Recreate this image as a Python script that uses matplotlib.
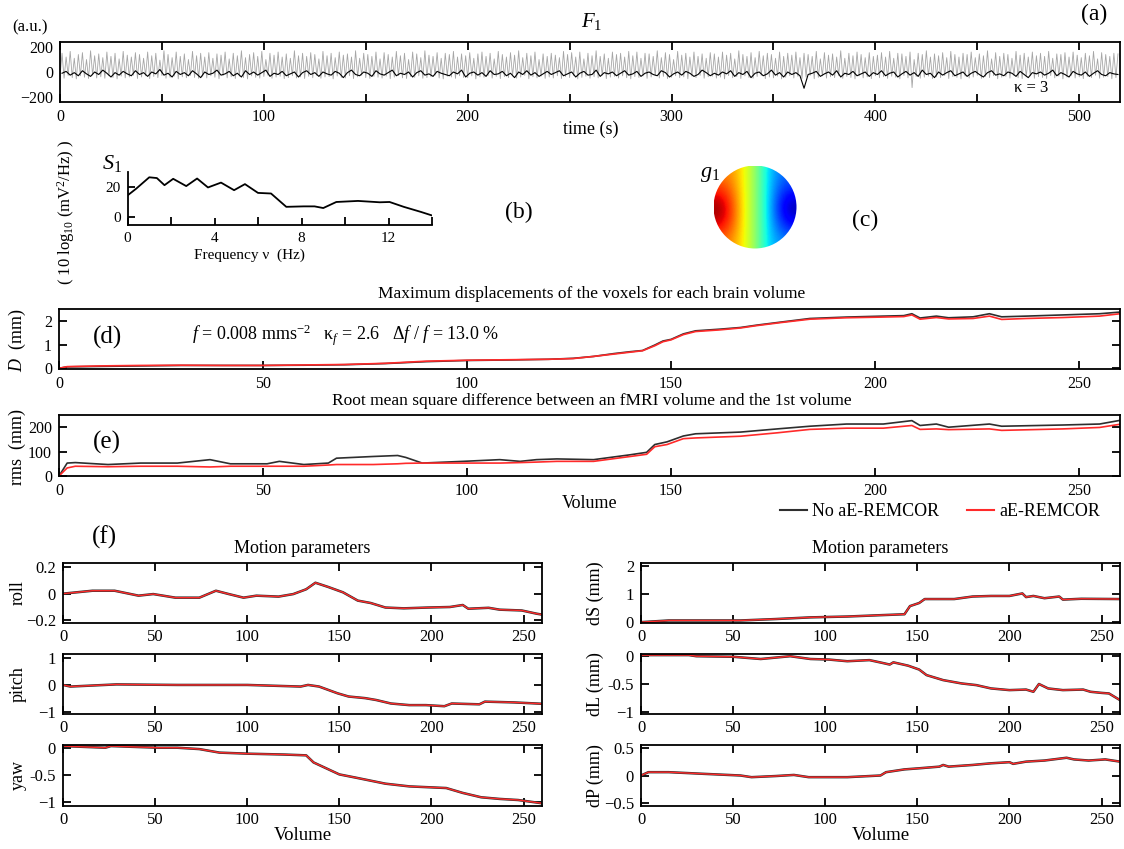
import numpy as np
import matplotlib.pyplot as plt
from matplotlib.lines import Line2D
from matplotlib.patches import Circle

plt.rcParams['font.family'] = ['Liberation Serif', 'DejaVu Serif']
plt.rcParams['mathtext.fontset'] = 'custom'
plt.rcParams['mathtext.rm'] = 'Liberation Serif'
plt.rcParams['mathtext.it'] = 'Liberation Serif:italic'
plt.rcParams['font.size'] = 11.5

# ---- (a) F1 time course: gray spikes (peaks/troughs every 2 s) and black trace
f1_peaks = [
    150, 120, 165, 110, 140, 155, 100, 170, 130, 145, 115, 160, 125, 150, 105, 165, 135, 120, 155, 140,
    110, 160, 130, 150, 95, 170, 140, 115, 160, 125, 145, 100, 165, 130, 150, 120, 155, 110, 145, 135,
    160, 105, 150, 130, 170, 115, 140, 155, 125, 165, 100, 150, 135, 160, 120, 145, 110, 170, 130, 150,
    125, 155, 140, 105, 165, 130, 150, 115, 160, 135, 145, 120, 170, 110, 150, 140, 125, 160, 105, 155,
    140, 120, 165, 130, 150, 100, 160, 145, 115, 170, 135, 125, 155, 110, 150, 140, 165, 120, 145, 130,
    155, 110, 145, 160, 125, 150, 105, 165, 140, 120, 155, 135, 170, 115, 150, 130, 160, 100, 145, 125,
    150, 135, 115, 165, 140, 155, 120, 160, 105, 150, 130, 170, 125, 145, 110, 160, 140, 150, 120, 165,
    130, 160, 110, 150, 145, 125, 170, 115, 155, 140, 100, 165, 135, 150, 120, 160, 125, 145, 110, 155,
    145, 120, 160, 135, 150, 105, 170, 140, 125, 155, 115, 165, 130, 150, 140, 110, 160, 125, 150, 135,
    160, 115, 150, 140, 125, 165, 105, 155, 135, 145, 120, 170, 110, 150, 130, 160, 140, 115, 155, 125,
    135, 155, 120, 165, 110, 150, 145, 125, 160, 100, 150, 140, 170, 120, 145, 130, 155, 115, 165, 140,
    120, 150, 140, 160, 115, 145, 130, 170, 105, 155, 125, 150, 140, 110, 165, 135, 150, 120, 160, 130,
    150, 125, 165, 110, 145, 140, 155, 120, 160, 135, 115, 150, 130, 165, 105, 155, 140, 125, 150, 145,
]
f1_troughs = [
    -35, -50, -28, -45, -55, -30, -42, -52, -25, -48, -38, -50, -30, -44, -55, -33, -47, -40, -26, -52,
    -40, -30, -53, -36, -45, -28, -50, -42, -33, -55, -38, -46, -27, -44, -51, -35, -48, -30, -42, -54,
    -29, -47, -38, -52, -33, -45, -55, -31, -43, -49, -36, -26, -50, -41, -34, -53, -45, -30, -48, -39,
    -52, -34, -46, -28, -50, -40, -37, -55, -32, -44, -48, -30, -53, -39, -27, -45, -51, -35, -42, -49,
    -33, -54, -41, -29, -47, -52, -36, -43, -31, -50, -45, -38, -26, -48, -55, -34, -40, -51, -30, -44,
    -46, -31, -55, -39, -42, -28, -49, -35, -53, -37, -45, -32, -50, -41, -27, -54, -38, -47, -33, -51,
    -40, -48, -30, -52, -36, -45, -29, -55, -43, -34, -50, -38, -47, -26, -53, -41, -35, -49, -31, -46,
    -55, -37, -44, -32, -51, -40, -28, -48, -35, -53, -42, -30, -46, -39, -54, -33, -45, -27, -50, -38,
    -34, -49, -41, -55, -29, -46, -37, -52, -31, -44, -50, -36, -28, -53, -40, -47, -33, -55, -42, -30,
    -48, -35, -52, -40, -27, -54, -43, -31, -49, -38, -45, -29, -51, -36, -44, -55, -32, -47, -39, -53,
    -30, -46, -38, -51, -34, -42, -55, -28, -47, -125, -36, -50, -41, -33, -53, -39, -45, -29, -52, -37,
    -43, -55, -32, -48, -40, -27, -51, -36, -45, -30, -54, -42, -35, -49, -28, -46, -53, -38, -31, -50,
    -37, -44, -52, -29, -47, -33, -55, -41, -30, -48, -39, -53, -34, -45, -26, -50, -42, -36, -54, -45,
]
f1_black = [
    -10, 5, -25, -5, -30, 10, -15, -35, 0, -20, 15, -10, -40, -5, -25, 5, -15, -30, 10, -20,
    -5, -35, 0, -15, 20, -25, -10, -40, 5, -20, -5, -30, 10, -15, -45, 0, -20, -10, 15, -25,
    -15, 5, -30, -10, -40, 10, -20, 0, -25, -5, 15, -35, -10, -20, 5, -30, -15, 0, -40, -5,
    10, -20, -5, -35, 0, -15, -25, 5, -10, -45, -5, 15, -20, -30, 0, -10, -35, 10, -15, -25,
    -5, 15, -30, -10, -20, 0, -40, -5, 10, -25, -15, -35, 5, -10, -20, -30, 0, -15, 15, -40,
    -10, 0, -25, -5, -35, 10, -20, -15, 5, -30, -10, -45, 0, -20, 10, -25, -5, -35, -15, 5,
    -20, -5, 10, -30, -15, 0, -40, -10, 5, -25, -20, 15, -35, -5, -15, 0, -30, -10, 10, -25,
    -15, 5, -35, -10, 0, -20, -30, 10, -5, -40, -15, 0, -25, 5, -10, -35, -20, 15, -5, -30,
    -10, -25, 0, -15, 10, -35, -5, -20, 5, -45, -10, 0, -30, -15, 15, -25, -5, -40, 0, -20,
    -5, -30, -130, -20, -10, 5, -35, -15, 0, -25, 10, -40, -10, -20, 5, -30, -15, 0, -35, -5,
    -20, 10, -30, -10, 0, -40, -15, 5, -25, -5, -35, 15, -20, -10, -45, 0, -25, -5, 10, -30,
    -15, 0, -35, -10, 5, -20, -40, -5, 10, -25, -15, -30, 0, -10, -35, 5, -20, -45, -5, -15,
    0, -25, -10, 15, -30, -5, -20, -40, 5, -15, -25, 0, -35, -10, 10, -20, -30, -5, -15, -20,
]

# ---- (b) spectrum S1
b_freq = [0, 0.4, 1.0, 1.35, 1.7, 2.1, 2.7, 3.2, 3.7, 4.3, 4.9, 5.4, 6.0, 6.6, 7.3,
          8.1, 8.6, 9.0, 9.6, 10.6, 11.6, 12.05, 12.7, 13.5, 14.0]
b_psd = [14.5, 19, 26.5, 26, 21.3, 25.5, 20.7, 25.7, 19.8, 23, 18, 22, 16.2, 15.8, 7,
         7.3, 7.3, 6.2, 10.2, 10.9, 10, 10.2, 7, 3.6, 1.3]

# ---- (c) topography g1 (rows top->bottom, columns left->right)
g1_grid = [
    [0.55, 0.50, 0.30, 0.05, -0.30, -0.50, -0.55],
    [0.75, 0.60, 0.30, 0.05, -0.30, -0.60, -0.70],
    [0.98, 0.70, 0.30, 0.05, -0.30, -0.70, -0.95],
    [0.85, 0.65, 0.30, 0.05, -0.30, -0.60, -0.75],
    [0.60, 0.50, 0.30, 0.05, -0.30, -0.45, -0.50],
]

# ---- (d) maximum displacement
d_vol = [0, 2, 10, 20, 30, 40, 50, 60, 70, 80, 90, 100, 110, 120, 126, 131, 136, 140, 143, 146, 148,
         150, 153, 156, 162, 167, 171, 177, 184, 193, 202, 207, 209, 211, 215, 218, 224, 228, 231,
         237, 246, 255, 260]
d_black = [0, 0.06, 0.08, 0.1, 0.12, 0.12, 0.12, 0.13, 0.15, 0.2, 0.28, 0.33, 0.35, 0.38, 0.42, 0.5,
           0.62, 0.7, 0.75, 0.98, 1.15, 1.22, 1.45, 1.58, 1.65, 1.72, 1.82, 1.95, 2.1, 2.16, 2.2, 2.22,
           2.3, 2.12, 2.2, 2.13, 2.17, 2.3, 2.17, 2.2, 2.25, 2.3, 2.37]
d_red = [0, 0.07, 0.1, 0.12, 0.13, 0.12, 0.12, 0.14, 0.16, 0.21, 0.3, 0.34, 0.36, 0.38, 0.41, 0.5,
         0.6, 0.68, 0.74, 0.95, 1.12, 1.2, 1.42, 1.55, 1.62, 1.7, 1.8, 1.93, 2.07, 2.13, 2.16, 2.18,
         2.25, 2.07, 2.14, 2.08, 2.1, 2.2, 2.06, 2.1, 2.14, 2.2, 2.3]

# ---- (e) rms difference
e_vol = [0, 2, 4, 12, 20, 29, 37, 42, 51, 54, 60, 66, 68, 77, 83, 85, 89, 99, 108, 113, 117, 122,
         131, 140, 144, 146, 149, 153, 156, 167, 176, 184, 193, 202, 209, 211, 215, 218, 228, 231,
         246, 255, 260]
e_black = [0, 53, 55, 47, 53, 53, 67, 50, 50, 60, 47, 53, 73, 80, 84, 76, 53, 60, 67, 60, 67, 70,
           67, 87, 97, 129, 140, 164, 173, 180, 193, 204, 213, 213, 227, 207, 213, 200, 213, 204,
           209, 213, 228]
e_red = [0, 33, 40, 38, 40, 40, 37, 40, 40, 40, 40, 45, 47, 47, 50, 52, 53, 53, 53, 55, 57, 60,
         60, 80, 89, 120, 129, 153, 156, 163, 177, 191, 196, 196, 207, 191, 193, 190, 193, 187,
         193, 199, 212]

# ---- (f) motion parameters
roll_vol = [0, 16, 28, 41, 49, 61, 74, 83, 90, 98, 105, 117, 125, 132, 137, 144, 152, 160, 167,
            175, 185, 198, 210, 217, 220, 231, 237, 249, 257, 260]
roll = [0, 0.022, 0.022, -0.015, -0.003, -0.03, -0.03, 0.022, -0.003, -0.03, -0.015, -0.022,
        -0.003, 0.033, 0.082, 0.05, 0.01, -0.052, -0.07, -0.104, -0.11, -0.104, -0.1, -0.085,
        -0.113, -0.106, -0.12, -0.126, -0.15, -0.157]
pitch_vol = [0, 4, 29, 62, 100, 129, 133, 139, 149, 155, 164, 170, 178, 188, 197, 207, 211, 226,
             229, 245, 260]
pitch = [0, -0.06, 0.02, 0, 0, -0.06, 0, -0.06, -0.31, -0.43, -0.49, -0.56, -0.69, -0.75, -0.75,
         -0.79, -0.69, -0.72, -0.62, -0.65, -0.7]
yaw_vol = [0, 23, 26, 43, 52, 62, 74, 85, 101, 120, 132, 136, 150, 159, 175, 188, 198, 208, 217,
           227, 237, 247, 260]
yaw = [0.03, 0, 0.03, 0.01, 0, 0, -0.025, -0.09, -0.11, -0.125, -0.14, -0.27, -0.49, -0.55, -0.66,
       -0.71, -0.725, -0.74, -0.83, -0.91, -0.94, -0.96, -1.02]
dS_vol = [0, 15, 54, 73, 92, 112, 131, 143, 146, 151, 154, 170, 180, 190, 200, 207, 209, 213, 219,
          227, 229, 239, 260]
dS = [0, 0.06, 0.06, 0.11, 0.17, 0.2, 0.25, 0.28, 0.57, 0.68, 0.82, 0.82, 0.91, 0.93, 0.93, 1.02,
      0.89, 0.93, 0.85, 0.91, 0.8, 0.83, 0.82]
dL_vol = [0, 26, 30, 50, 65, 81, 92, 102, 112, 124, 131, 135, 137, 145, 151, 155, 164, 174, 182,
          190, 200, 209, 213, 216, 221, 229, 240, 244, 250, 254, 260]
dL = [0.02, 0.02, 0, -0.01, -0.05, 0, -0.05, -0.06, -0.09, -0.07, -0.12, -0.15, -0.11, -0.17,
      -0.24, -0.34, -0.43, -0.49, -0.52, -0.58, -0.61, -0.6, -0.64, -0.5, -0.58, -0.61, -0.6,
      -0.64, -0.66, -0.67, -0.79]
dP_vol = [0, 4, 15, 34, 54, 60, 73, 83, 91, 112, 130, 133, 143, 151, 162, 164, 167, 180, 190, 200,
          202, 209, 219, 231, 235, 243, 252, 260]
dP = [0, 0.06, 0.06, 0.03, 0, -0.03, -0.01, 0.01, -0.03, -0.03, 0, 0.06, 0.11, 0.13, 0.16, 0.19,
      0.16, 0.19, 0.22, 0.24, 0.21, 0.25, 0.27, 0.32, 0.29, 0.27, 0.29, 0.25]

BLACK = '#2e2e2e'
RED = '#ff2a2a'

W, H = 1124, 849
fig = plt.figure(figsize=(W / 100, H / 100), dpi=100)


def box(l, t, r, b):
    return fig.add_axes([l / W, 1 - b / H, (r - l) / W, (b - t) / H])


def txt(x, y, s, **kw):
    kw.setdefault('ha', 'center')
    kw.setdefault('va', 'center')
    fig.text(x / W, 1 - y / H, s, **kw)


def style(ax, top=True, right=True, size=11.5):
    ax.tick_params(which='both', direction='in', length=6, width=1.3,
                   top=top, right=right, labelsize=size, pad=5)
    for s in ax.spines.values():
        s.set_linewidth(1.3)


# (a)
ax_a = box(60, 42, 1120, 102)
gray = np.empty(2 * len(f1_peaks))
gray[0::2] = f1_troughs
gray[1::2] = f1_peaks
ax_a.plot(np.arange(len(gray)), gray, color='#a6a6a6', lw=0.6)
ax_a.plot(np.arange(len(f1_black)) * 2 + 1, f1_black, color='black', lw=0.8)
ax_a.set_xlim(0, 520)
ax_a.set_ylim(-240, 240)
ax_a.set_xticks(range(0, 501, 100))
ax_a.set_xticks(range(50, 520, 100), minor=True)
ax_a.set_yticks([-200, 0, 200])
style(ax_a)
ax_a.tick_params(axis='y', length=0)
txt(30, 27, '(a.u.)', fontsize=12)
txt(592, 21, r'$F_1$', fontsize=15)
txt(1094, 14, '(a)', fontsize=17)
txt(1031, 88, 'κ = 3', fontsize=12)
txt(591, 129, 'time (s)', fontsize=13)

# (b)
ax_b = box(127.5, 172, 432, 225)
ax_b.plot(b_freq, b_psd, color='black', lw=1.3)
ax_b.set_xlim(0, 14)
ax_b.set_ylim(-5, 30)
ax_b.set_xticks([0, 4, 8, 12])
ax_b.set_xticks([2, 6, 10, 14], minor=True)
ax_b.set_yticks([0, 20])
style(ax_b, top=False, right=False, size=11)
ax_b.tick_params(length=5)
ax_b.spines['top'].set_visible(False)
ax_b.spines['right'].set_visible(False)
txt(112, 163, r'$S_1$', fontsize=16)
txt(66, 212, r'( 10 log$_{10}$ (mV$^2$/Hz) )', rotation=90, fontsize=12)
txt(249, 255, 'Frequency ν  (Hz)', fontsize=11)
txt(519, 212, '(b)', fontsize=17)

# (c)
ax_c = box(713.5, 165.5, 796.5, 248.5)
im = ax_c.imshow(g1_grid, cmap='jet', vmin=-1, vmax=1, extent=(-1, 1, -1, 1),
                 interpolation='bicubic', origin='upper')
im.set_clip_path(Circle((0, 0), 1, transform=ax_c.transData))
ax_c.set_xlim(-1, 1)
ax_c.set_ylim(-1, 1)
ax_c.axis('off')
txt(710, 175, r'$g_1$', fontsize=16)
txt(865, 220, '(c)', fontsize=17)

# (d)
ax_d = box(59, 309, 1120, 369)
ax_d.plot(d_vol, d_black, color=BLACK, lw=1.2)
ax_d.plot(d_vol, d_red, color=RED, lw=1.2)
ax_d.set_xlim(0, 260)
ax_d.set_ylim(-0.03, 2.5)
ax_d.set_xticks(range(0, 260, 50))
ax_d.set_yticks([0, 1, 2])
style(ax_d, top=False)
txt(592, 294, 'Maximum displacements of the voxels for each brain volume', fontsize=12.5)
txt(107, 337, '(d)', fontsize=18)
txt(346, 335, r'$f$ = 0.008 mms$^{-2}$   κ$_f$ = 2.6   Δ$f$ / $f$ = 13.0 %', fontsize=13)
txt(17, 340, r'$D$  (mm)', rotation=90, fontsize=13)

# (e)
ax_e = box(59, 415, 1120, 476)
ax_e.plot(e_vol, e_black, color=BLACK, lw=1.2)
ax_e.plot(e_vol, e_red, color=RED, lw=1.2)
ax_e.set_xlim(0, 260)
ax_e.set_ylim(0, 250)
ax_e.set_xticks(range(0, 260, 50))
ax_e.set_yticks([0, 100, 200])
style(ax_e, top=False)
txt(592, 401, 'Root mean square difference between an fMRI volume and the 1st volume', fontsize=12.5)
txt(107, 442, '(e)', fontsize=18)
txt(17, 447, 'rms  (mm)', rotation=90, fontsize=13)
txt(590, 503, 'Volume', fontsize=13)

handles = [Line2D([], [], color=BLACK, lw=1.5), Line2D([], [], color=RED, lw=1.5)]
fig.legend(handles, ['No aE-REMCOR', 'aE-REMCOR'], loc='center',
           bbox_to_anchor=(940 / W, 1 - 512 / H), ncol=2, frameon=False, fontsize=13,
           handlelength=1.5, columnspacing=1.5, handletextpad=0.3, borderpad=0.2)

# (f)
txt(104, 537, '(f)', fontsize=18)
panels = [
    ((63, 563, 542, 623), roll_vol, roll, (-0.22, 0.23), [-0.2, 0, 0.2], ['−0.2', '0', '0.2'], 'roll', 18),
    ((63, 654, 542, 714), pitch_vol, pitch, (-1.08, 1.15), [-1, 0, 1], ['−1', '0', '1'], 'pitch', 18),
    ((63, 745, 542, 806), yaw_vol, yaw, (-1.07, 0.05), [-1, -0.5, 0], ['−1', '-0.5', '0'], 'yaw', 18),
    ((641, 563, 1120, 623), dS_vol, dS, (-0.03, 2.1), [0, 1, 2], ['0', '1', '2'], 'dS (mm)', 595),
    ((641, 654, 1120, 714), dL_vol, dL, (-1.04, 0.04), [-1, -0.5, 0], ['−1', '-0.5', '0'], 'dL (mm)', 595),
    ((641, 745, 1120, 806), dP_vol, dP, (-0.55, 0.55), [-0.5, 0, 0.5], ['−0.5', '0', '0.5'], 'dP (mm)', 595),
]
for i, (b, vol, val, ylim, yt, ytl, lab, lx) in enumerate(panels):
    ax = box(*b)
    ax.plot(vol, val, color=BLACK, lw=1.8)
    ax.plot(vol, val, color=RED, lw=1.0)
    ax.set_xlim(0, 260)
    ax.set_ylim(*ylim)
    ax.set_xticks(range(0, 260, 50))
    ax.set_yticks(yt)
    ax.set_yticklabels(ytl)
    style(ax, size=12)
    ax.tick_params(axis='x', pad=4)
    txt(lx, (b[1] + b[3]) / 2, lab, rotation=90, fontsize=13)
    if i % 3 == 0:
        ax.set_title('Motion parameters', fontsize=13, pad=7)
    if i % 3 == 2:
        txt((b[0] + b[2]) / 2, 835, 'Volume', fontsize=13.5)

fig.savefig('out.png', dpi=100)
